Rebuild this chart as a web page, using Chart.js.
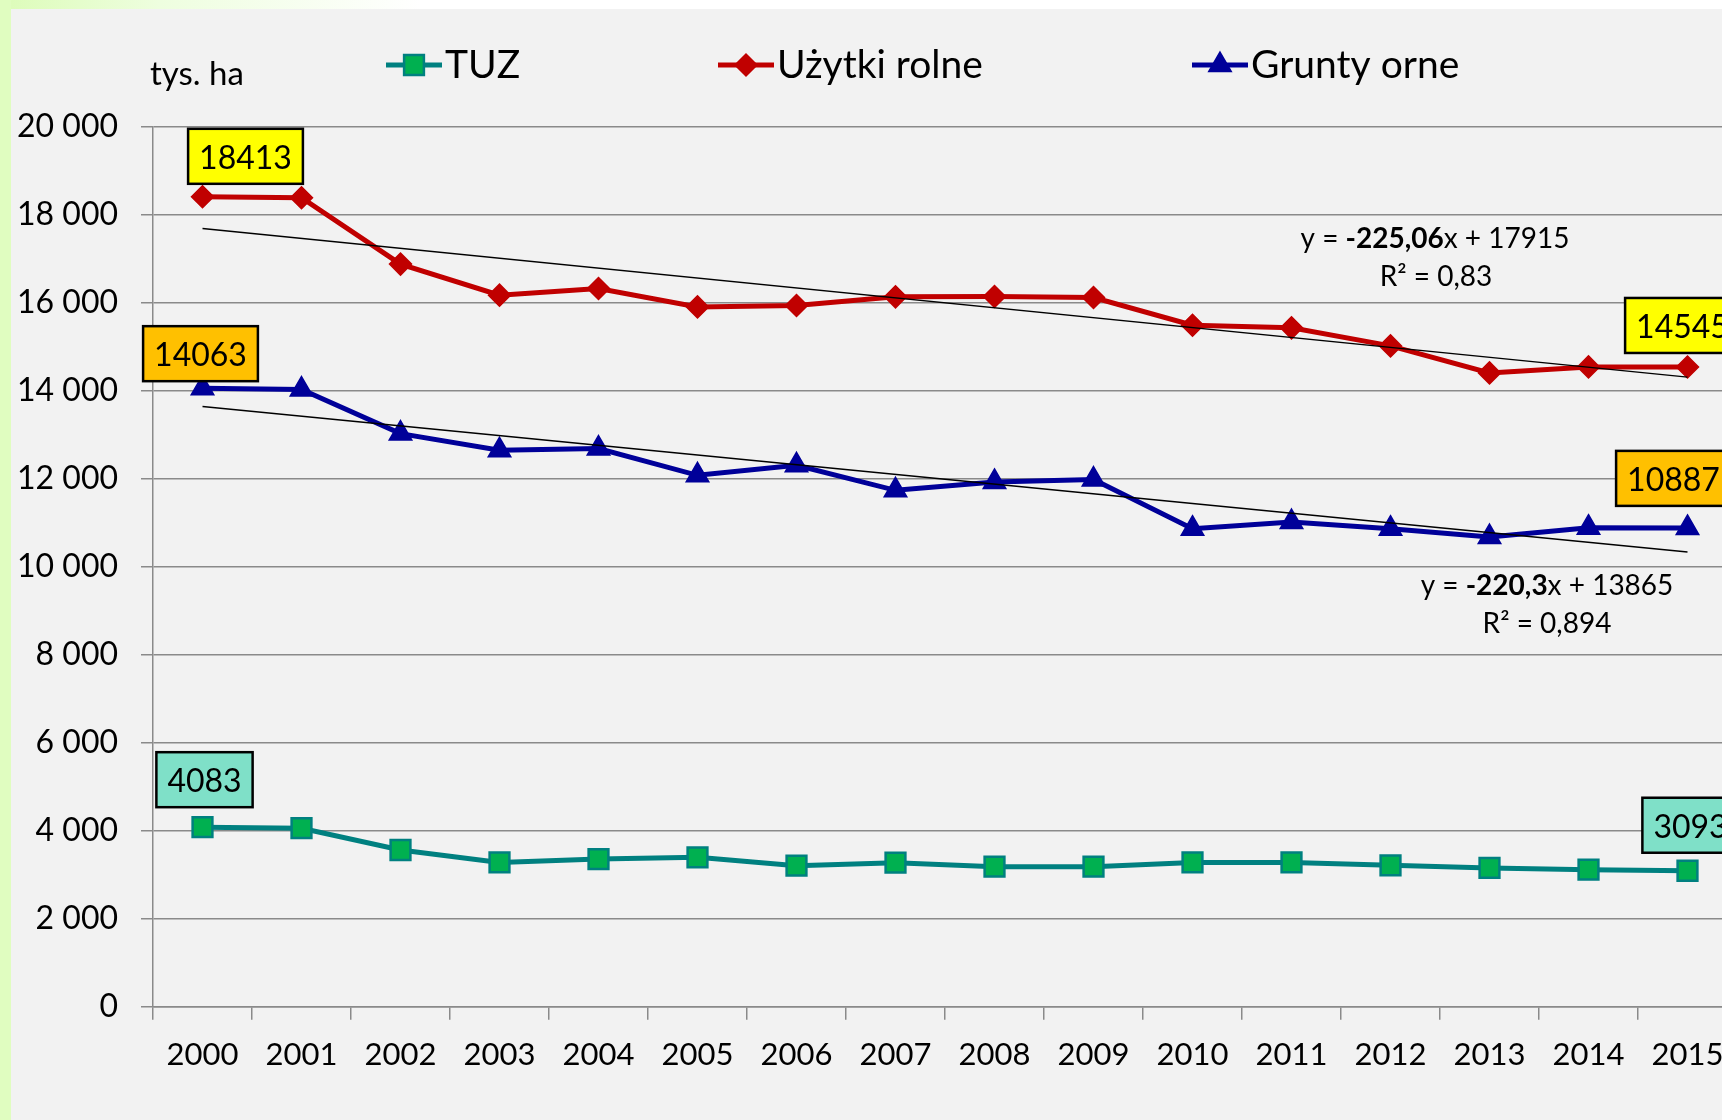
<!DOCTYPE html>
<html lang="pl">
<head>
<meta charset="utf-8">
<title>TUZ, użytki rolne, grunty orne</title>
<script src="https://cdn.jsdelivr.net/npm/chart.js@4/dist/chart.umd.min.js"></script>
<style>
  html, body { margin: 0; padding: 0; overflow: hidden; width: 1722px; height: 1120px; }
  body { position: relative; background: linear-gradient(to right, #dcfcb8 0px, #eefedf 160px, #ffffff 420px); }
  #pasek { position: absolute; left: 0; top: 0; width: 11px; height: 1120px; background: #e0fdc0; }
  #ramka { position: absolute; left: 11px; top: 9px; width: 1760px; height: 1111px; background: #f2f2f2; }
</style>
</head>
<body>
<div id="pasek"></div>
<div id="ramka"><canvas id="myChart"></canvas></div>
<script>
var lata = ["2000", "2001", "2002", "2003", "2004", "2005", "2006", "2007",
            "2008", "2009", "2010", "2011", "2012", "2013", "2014", "2015"];
var tuz = [4083, 4060, 3565, 3283, 3359, 3397, 3208, 3276,
           3185, 3185, 3283, 3283, 3215, 3156, 3117, 3093];
var uzytkiRolne = [18413, 18391, 16883, 16177, 16330, 15911, 15943, 16139,
                   16147, 16124, 15494, 15434, 15024, 14410, 14546, 14545];
var gruntyOrne = [14063, 14032, 13030, 12651, 12689, 12082, 12309, 11741,
                  11930, 11984, 10869, 11020, 10869, 10679, 10892, 10887];
// linie trendu - wartosci na poczatku (2000) i koncu (2015)
var trendUR = [17690, 14314];
var trendGO = [13645, 10340];
var yTickLabels = ["0", "2 000", "4 000", "6 000", "8 000", "10 000",
                   "12 000", "14 000", "16 000", "18 000", "20 000"];
var rownanieUR = [["y = ", false], ["-225,06", true], ["x + 17915", false]];
var r2UR = "R² = 0,83";
var rownanieGO = [["y = ", false], ["-220,3", true], ["x + 13865", false]];
var r2GO = "R² = 0,894";
var jednostka = "tys. ha";

function naKoncach(para) {
    var d = lata.map(function () { return null; });
    d[0] = para[0];
    d[d.length - 1] = para[1];
    return d;
}

// etykiety danych (pierwszy i ostatni punkt serii)
var etykiety = [
    { ds: 1, idx: 0,  kolor: "#ffff00", dx: 43,  gap: 13 },
    { ds: 1, idx: 15, kolor: "#ffff00", dx: -5,  gap: 14 },
    { ds: 2, idx: 0,  kolor: "#ffc000", dx: -2,  gap: 7 },
    { ds: 2, idx: 15, kolor: "#ffc000", dx: -14, gap: 22 },
    { ds: 0, idx: 0,  kolor: "#7fe0c8", dx: 2,   gap: 20 },
    { ds: 0, idx: 15, kolor: "#7fe0c8", dx: 3,   gap: 18 }
];
var legendaX = [375, 707, 1181];

function marker(ctx, ds, x, y) {
    ctx.save();
    ctx.fillStyle = ds.pointBackgroundColor;
    ctx.strokeStyle = ds.pointBorderColor;
    ctx.lineWidth = ds.pointBorderWidth;
    Chart.helpers.drawPoint(ctx, { pointStyle: ds.pointStyle, radius: ds.pointRadius,
        borderWidth: ds.pointBorderWidth, rotation: 0 }, x, y);
    ctx.restore();
}

function rownanie(ctx, czesci, cx, y) {
    var w = 0;
    czesci.forEach(function (c) {
        ctx.font = (c[1] ? "bold " : "") + "28px Lato";
        w += ctx.measureText(c[0]).width;
    });
    var x = cx - w / 2;
    czesci.forEach(function (c) {
        ctx.font = (c[1] ? "bold " : "") + "28px Lato";
        ctx.fillText(c[0], x, y);
        x += ctx.measureText(c[0]).width;
    });
}

var opisy = {
    id: "opisy",
    afterDatasetsDraw: function (chart) {
        var ctx = chart.ctx;
        ctx.save();
        ctx.fillStyle = "#000";
        ctx.textAlign = "left";
        ctx.textBaseline = "alphabetic";

        // legenda
        for (var i = 0; i < 3; i++) {
            var ds = chart.data.datasets[i];
            var x = legendaX[i];
            ctx.strokeStyle = ds.borderColor;
            ctx.lineWidth = 5;
            ctx.beginPath();
            ctx.moveTo(x, 56);
            ctx.lineTo(x + 56, 56);
            ctx.stroke();
            marker(ctx, ds, x + 28, 56);
            ctx.fillStyle = "#000";
            ctx.font = "39px Lato";
            ctx.fillText(ds.label, x + 59, 69);
        }

        ctx.font = "33px Lato";
        ctx.fillText(jednostka, 139, 76);

        // rownania trendu
        rownanie(ctx, rownanieUR, 1424, 239);
        rownanie(ctx, rownanieGO, 1536, 586);
        ctx.font = "28px Lato";
        ctx.textAlign = "center";
        ctx.fillText(r2UR, 1425, 277);
        ctx.fillText(r2GO, 1536, 624);

        // etykiety danych
        ctx.font = "32px Lato";
        etykiety.forEach(function (e) {
            var pt = chart.getDatasetMeta(e.ds).data[e.idx];
            var txt = String(chart.data.datasets[e.ds].data[e.idx]);
            var w = ctx.measureText(txt).width + 22;
            var h = 55;
            var left = pt.x + e.dx - w / 2;
            var top = pt.y - e.gap - h;
            ctx.fillStyle = e.kolor;
            ctx.fillRect(left, top, w, h);
            ctx.strokeStyle = "#000";
            ctx.lineWidth = 2.5;
            ctx.strokeRect(left, top, w, h);
            ctx.fillStyle = "#000";
            ctx.fillText(txt, left + w / 2, top + 40);
        });
        ctx.restore();
    }
};

Chart.defaults.font.family = "Lato";
Chart.defaults.color = "#000";

new Chart("myChart", {
    type: "line",
    data: {
        labels: lata,
        datasets: [
            { label: "TUZ", data: tuz, borderColor: "#008080", borderWidth: 5,
              pointStyle: "rect", pointRadius: 14, pointBackgroundColor: "#00b050",
              pointBorderColor: "#008080", pointBorderWidth: 2.5, order: 1 },
            { label: "Użytki rolne", data: uzytkiRolne, borderColor: "#c00000", borderWidth: 5,
              pointStyle: "rectRot", pointRadius: 11, pointBackgroundColor: "#c00000",
              pointBorderColor: "#c00000", pointBorderWidth: 1.5, order: 1 },
            { label: "Grunty orne", data: gruntyOrne, borderColor: "#000099", borderWidth: 5,
              pointStyle: "triangle", pointRadius: 13, pointBackgroundColor: "#000099",
              pointBorderColor: "#000099", pointBorderWidth: 1.5, order: 1 },
            { label: "trend UR", data: naKoncach(trendUR), borderColor: "#000", borderWidth: 1.5,
              pointRadius: 0, spanGaps: true, order: 0 },
            { label: "trend GO", data: naKoncach(trendGO), borderColor: "#000", borderWidth: 1.5,
              pointRadius: 0, spanGaps: true, order: 0 }
        ]
    },
    options: {
        responsive: true,
        maintainAspectRatio: false,
        animation: false,
        layout: { padding: { left: 0, right: 34, top: 118, bottom: 29 } },
        plugins: { legend: { display: false }, tooltip: { enabled: false } },
        scales: {
            x: {
                offset: true,
                grid: { offset: true, drawOnChartArea: false, tickLength: 13, color: "#8a8a8a", lineWidth: 1.5 },
                border: { color: "#8a8a8a", width: 1.5 },
                ticks: { font: { size: 31 }, padding: 17, maxRotation: 0, autoSkip: false }
            },
            y: {
                min: 0, max: 20000,
                grid: { tickLength: 12, color: "#8a8a8a", lineWidth: 1.5 },
                border: { color: "#8a8a8a", width: 1.5 },
                ticks: { stepSize: 2000, font: { size: 32 }, padding: 23,
                         callback: function (v, i) { return yTickLabels[i]; } },
                afterFit: function (s) { s.width = 142; }
            }
        }
    },
    plugins: [opisy]
});
</script>
</body>
</html>
